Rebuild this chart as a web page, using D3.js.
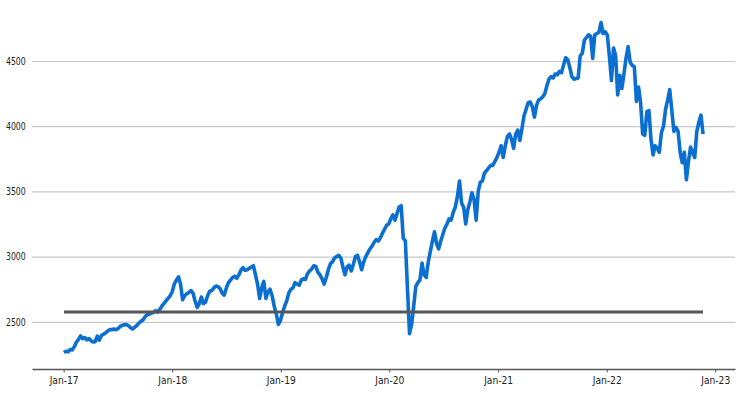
<!DOCTYPE html>
<html>
<head>
<meta charset="utf-8">
<script src="https://cdn.jsdelivr.net/npm/d3@7"></script>
<style>
  html, body { margin: 0; padding: 0; background: #fff; }
  text { font-family: "DejaVu Sans", sans-serif; fill: #222; }
</style>
</head>
<body>
<div id="chart"></div>
<script>
var width = 740, height = 393;
var margin = { top: 6, right: 5, bottom: 24, left: 32 };

// weekly values, first week starting 2 Jan 2017
var startDate = new Date(2017, 0, 2);
var values = [
  2265, 2275, 2270, 2288, 2285, 2310, 2345, 2365, 2392, 2370, 2380, 2362, 2372, 2355, 2345, 2348,
  2390, 2360, 2395, 2405, 2415, 2430, 2440, 2440, 2445, 2440, 2448, 2465, 2472, 2478, 2480, 2470,
  2455, 2445, 2460, 2472, 2490, 2505, 2515, 2540, 2555, 2560, 2568, 2572, 2585, 2575, 2595, 2620,
  2640, 2660, 2680, 2700,
  2730, 2790, 2820, 2845, 2790, 2670, 2700, 2715, 2725, 2740, 2720, 2660, 2610, 2640, 2690, 2640,
  2650, 2700, 2735, 2740, 2760, 2775, 2770, 2755, 2720, 2705, 2760, 2800, 2820, 2840, 2850, 2835,
  2860, 2895, 2915, 2895, 2900, 2910, 2920, 2930, 2860, 2790, 2680, 2760, 2810, 2680, 2730, 2750,
  2700, 2620, 2560, 2480, 2510,
  2570, 2620, 2660, 2720, 2750, 2760, 2800, 2790, 2780, 2820, 2830, 2825, 2870, 2890, 2905, 2930,
  2925, 2880, 2860, 2830, 2790, 2840, 2900, 2945, 2960, 2990, 3000, 3010, 2990, 2920, 2860, 2920,
  2935, 2890, 2940, 3000, 3010, 2960, 2900, 2960, 3000, 3030, 3060, 3080, 3110, 3130, 3120, 3145,
  3180, 3210, 3240,
  3250, 3290, 3320, 3280, 3330, 3380, 3390, 3140, 3120, 2760, 2410, 2480, 2620, 2770, 2800, 2820,
  2950, 2860, 2840, 2960, 3040, 3120, 3190, 3100, 3060, 3120, 3170, 3220, 3250, 3290, 3280, 3340,
  3380, 3460, 3580, 3410, 3380, 3250, 3360, 3420, 3490, 3440, 3280, 3500, 3570, 3580, 3640, 3660,
  3680, 3700, 3700, 3730,
  3760, 3800, 3850, 3760, 3850, 3920, 3940, 3900, 3830, 3940, 3970, 3890, 3980, 4080, 4130, 4180,
  4185, 4150, 4070, 4160, 4200, 4210, 4225, 4250, 4310, 4360, 4380, 4370, 4400, 4395, 4420, 4410,
  4470, 4525, 4510, 4450, 4380, 4360, 4365, 4370, 4540, 4560, 4660, 4680, 4700, 4690, 4520, 4700,
  4710, 4720, 4795, 4710, 4725,
  4700, 4540, 4350, 4600, 4540, 4240, 4390, 4290, 4400, 4520, 4610, 4490, 4465, 4455, 4190, 4300,
  4180, 3940, 3930, 4110, 4120, 3900, 3780, 3850, 3830, 3800, 3950, 4000, 4130, 4200, 4280, 4120,
  3960, 3990, 3960, 3800, 3720, 3800, 3590, 3730, 3840, 3800, 3760, 3960, 4030, 4085, 3940
];
var refLevel = 2575;
var yTicks = [2500, 3000, 3500, 4000, 4500];
var xTickYears = [2017, 2018, 2019, 2020, 2021, 2022, 2023];

var data = values.map(function (v, i) {
  return { date: d3.timeDay.offset(startDate, 7 * i), value: v };
});

var svg = d3.select("#chart").append("svg")
  .attr("width", width)
  .attr("height", height);

// matplotlib-like 5% padding around the data
var xExt = d3.extent(data, function (d) { return d.date; });
var xPad = (xExt[1] - xExt[0]) * 0.05;
var x = d3.scaleTime()
  .domain([new Date(+xExt[0] - xPad), new Date(+xExt[1] + xPad)])
  .range([margin.left, width - margin.right]);

var yExt = d3.extent(values);
var yPad = (yExt[1] - yExt[0]) * 0.05;
var y = d3.scaleLinear()
  .domain([yExt[0] - yPad, yExt[1] + yPad])
  .range([height - margin.bottom, margin.top]);

// grid + y labels
var yAxis = svg.append("g")
  .attr("transform", "translate(" + margin.left + ",0)")
  .call(d3.axisLeft(y)
    .tickValues(yTicks)
    .tickFormat(d3.format("d"))
    .tickSize(-(width - margin.left - margin.right))
    .tickPadding(8));
yAxis.select(".domain").remove();
yAxis.selectAll("line").attr("stroke", "#c8c8c8").attr("stroke-width", 1.2);
yAxis.selectAll("text")
  .attr("font-size", 10)
  .attr("fill", "#111")
  .attr("transform", "scale(0.78,1)");

// x axis
var xAxis = svg.append("g")
  .attr("transform", "translate(0," + (height - margin.bottom) + ")")
  .call(d3.axisBottom(x)
    .tickValues(xTickYears.map(function (yr) { return new Date(yr, 0, 1); }))
    .tickFormat(d3.timeFormat("%b-%y"))
    .tickSize(3.5)
    .tickSizeOuter(0)
    .tickPadding(4));
xAxis.select(".domain").attr("stroke", "#555").attr("stroke-width", 1.4);
xAxis.selectAll("line").attr("stroke", "#555").attr("stroke-width", 1);
xAxis.selectAll("text")
  .attr("font-size", 10.5)
  .attr("fill", "#111")
  .attr("transform", "scale(0.87,1)");

var line = d3.line()
  .x(function (d) { return x(d.date); })
  .y(function (d) { return y(d.value); });

svg.append("path")
  .datum(data)
  .attr("fill", "none")
  .attr("stroke", "#0a6fd0")
  .attr("stroke-width", 3.6)
  .attr("stroke-linejoin", "round")
  .attr("d", line);

svg.append("path")
  .datum([{ date: xExt[0], value: refLevel }, { date: xExt[1], value: refLevel }])
  .attr("fill", "none")
  .attr("stroke", "#575757")
  .attr("stroke-width", 3)
  .attr("d", line);
</script>
</body>
</html>
